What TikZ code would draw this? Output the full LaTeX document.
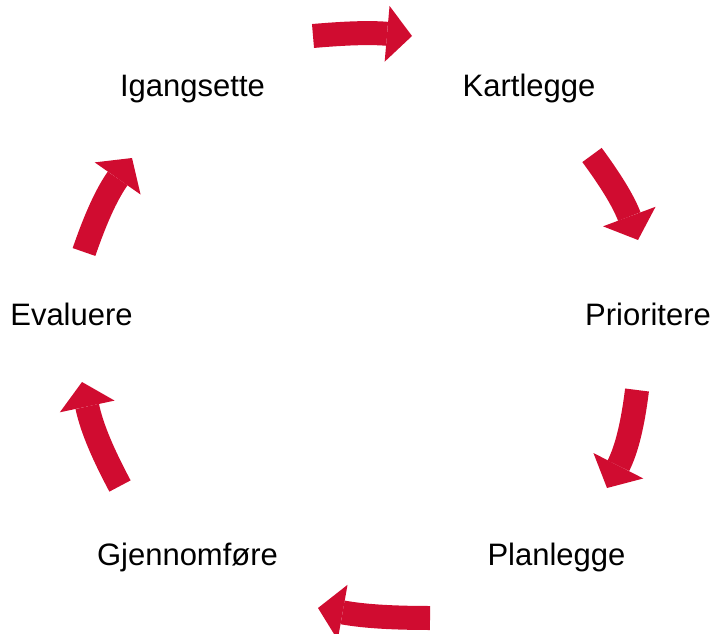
\documentclass[tikz,border=0pt]{standalone}
\usepackage{fontspec}
\setmainfont{Liberation Sans}
\usetikzlibrary{arrows.meta}
\definecolor{arrowred}{RGB}{208,12,48}
\begin{document}
\begin{tikzpicture}[x=1pt,y=1pt,
  lbl/.style={anchor=base, inner sep=0pt, font=\fontsize{31}{37}\selectfont, text=black},
  cyc/.style={draw=arrowred, line width=24pt, line cap=butt,
    -{Triangle[width=56pt,length=25pt,line width=0pt,fill=arrowred]}}]
\useasboundingbox (0,0) rectangle (719,633);
\clip (0,0) rectangle (719,633);
% labels
\node[lbl] (ig) at (192.5,536) {Igangsette};
\node[lbl] (ka) at (529,536) {Kartlegge};
\node[lbl] (pr) at (648,308) {Prioritere};
\node[lbl] (pl) at (556.5,68) {Planlegge};
\node[lbl] (gj) at (187.5,68) {Gjennomføre};
\node[lbl] (ev) at (71.5,308) {Evaluere};
% arrow end points
\coordinate (a1s) at (313,597); \coordinate (a1e) at (412,597);
\coordinate (a2s) at (592,478); \coordinate (a2e) at (638,393);
\coordinate (a3s) at (637,243); \coordinate (a3e) at (607,145);
\coordinate (a4s) at (430,15);  \coordinate (a4e) at (318,25);
\coordinate (a5s) at (120,147); \coordinate (a5e) at (82,251);
\coordinate (a6s) at (84,381);  \coordinate (a6e) at (132,475);
% arrows
\draw[cyc] (a1s) to[bend left=5] (a1e);
\draw[cyc] (a2s) to[bend left=8] (a2e);
\draw[cyc] (a3s) to[bend left=10] (a3e);
\draw[cyc] (a4s) to[bend left=5] (a4e);
\draw[cyc] (a5s) to[bend left=8] (a5e);
\draw[cyc] (a6s) to[bend left=8] (a6e);
\end{tikzpicture}
\end{document}
